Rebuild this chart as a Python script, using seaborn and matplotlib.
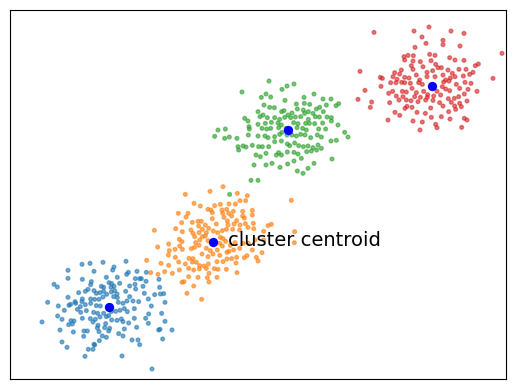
import pandas as pd
import matplotlib
matplotlib.use("Agg")
import matplotlib.pyplot as plt
import seaborn as sns

# -----------------------------
# Data (arbitrary units)
# -----------------------------
blue_points = [
    (247, 374), (271, 377), (310, 380), (379, 383), (205, 356), (283, 353), (343, 366), (339, 357),
    (386, 350), (381, 344), (412, 353), (440, 350), (205, 332), (248, 329), (320, 335), (353, 335),
    (407, 331), (420, 331), (425, 331), (478, 329), (163, 314), (173, 306), (275, 322), (273, 313),
    (305, 308), (312, 305), (328, 319), (336, 316), (334, 305), (343, 308), (360, 317), (390, 309),
    (406, 314), (430, 308), (439, 323), (408, 300), (265, 299), (283, 295), (290, 287), (301, 289),
    (312, 293), (321, 284), (335, 291), (345, 295), (352, 285), (378, 293), (237, 289), (257, 293),
    (205, 275), (248, 270), (247, 262), (226, 262), (273, 270), (285, 269), (298, 269), (310, 276),
    (342, 277), (353, 274), (390, 277), (382, 264), (400, 264), (417, 262), (434, 287), (465, 283),
    (482, 285), (480, 305), (492, 286), (446, 270), (496, 260), (144, 260), (176, 249), (208, 251),
    (213, 254), (228, 257), (242, 247), (257, 253), (273, 257), (290, 250), (302, 249), (356, 260),
    (370, 257), (374, 241), (404, 241), (455, 249), (194, 236), (233, 239), (243, 230), (260, 235),
    (282, 230), (294, 227), (312, 227), (320, 217), (335, 232), (348, 233), (361, 236), (383, 232),
    (447, 225), (486, 227), (174, 219), (187, 209), (248, 212), (272, 211), (287, 209), (301, 216),
    (327, 220), (352, 206), (365, 210), (370, 202), (387, 198), (404, 212), (438, 212), (496, 203),
    (127, 201), (214, 205), (223, 204), (207, 193), (218, 195), (280, 201), (295, 191), (318, 196),
    (336, 207), (315, 184), (330, 182), (293, 183), (411, 185), (446, 197), (181, 177), (221, 171),
    (253, 174), (263, 174), (298, 172), (327, 174), (357, 166), (374, 180), (370, 159), (477, 177),
    (517, 177), (481, 179), (252, 158), (308, 159), (320, 155), (299, 145), (285, 132), (187, 141),
    (397, 147), (415, 147), (420, 133), (489, 150), (202, 125), (266, 119), (280, 119), (283, 134),
    (256, 98), (367, 99), (457, 60),
]

orange_points = [
    (670, 607), (557, 584), (631, 593), (713, 587), (743, 580), (721, 565), (738, 565), (875, 566),
    (583, 557), (602, 549), (645, 550), (662, 554), (688, 555), (707, 555), (625, 539), (634, 537),
    (638, 529), (667, 537), (681, 539), (687, 527), (701, 533), (729, 533), (758, 536), (536, 527),
    (565, 527), (559, 516), (578, 500), (595, 503), (605, 503), (617, 492), (638, 511), (669, 527),
    (673, 515), (696, 519), (711, 505), (729, 519), (734, 513), (758, 522), (546, 499), (528, 481),
    (548, 472), (574, 477), (597, 489), (608, 479), (627, 482), (650, 495), (683, 504), (685, 492),
    (703, 495), (721, 492), (737, 496), (761, 497), (805, 490), (815, 494), (464, 476), (580, 467),
    (598, 469), (620, 469), (641, 474), (654, 469), (668, 475), (680, 479), (699, 479), (720, 477),
    (745, 485), (762, 481), (792, 473), (885, 472), (539, 449), (547, 442), (585, 457), (608, 457),
    (617, 459), (662, 455), (670, 451), (678, 443), (884, 439), (507, 435), (540, 429), (588, 439),
    (600, 447), (625, 445), (660, 437), (668, 429), (692, 431), (706, 439), (731, 437), (746, 437),
    (766, 447), (792, 447), (474, 426), (509, 415), (526, 419), (548, 419), (575, 421), (585, 425),
    (598, 431), (620, 422), (632, 415), (653, 417), (682, 410), (688, 413), (702, 417), (720, 422),
    (758, 417), (787, 409), (506, 402), (527, 395), (568, 392), (580, 391), (607, 405), (625, 397),
    (640, 405), (660, 401), (682, 390), (696, 391), (711, 395), (734, 394), (742, 400), (770, 395),
    (775, 384), (441, 386), (484, 377), (537, 381), (557, 375), (578, 381), (590, 380), (600, 370),
    (613, 369), (626, 375), (652, 382), (670, 382), (709, 378), (518, 347), (539, 357), (567, 362),
    (582, 357), (599, 360), (620, 362), (628, 347), (644, 361), (655, 359), (680, 359), (712, 349),
    (453, 349), (495, 352), (547, 320), (553, 322), (567, 337), (595, 335), (623, 334), (628, 321),
    (652, 335), (582, 309), (562, 287), (606, 269), (475, 344), (507, 371),
]

green_points = [
    (808, 924), (862, 909), (883, 915), (847, 899), (727, 891), (799, 885), (785, 875), (813, 876),
    (856, 866), (913, 875), (943, 885), (970, 870), (994, 870), (793, 852), (810, 845), (824, 844),
    (890, 855), (914, 857), (930, 854), (950, 840), (960, 845), (980, 852), (1009, 850), (1017, 856),
    (775, 832), (846, 832), (853, 835), (865, 822), (877, 828), (893, 840), (911, 837), (915, 827),
    (926, 832), (940, 827), (971, 832), (735, 812), (745, 804), (781, 817), (790, 822), (803, 814),
    (825, 814), (840, 809), (855, 815), (873, 814), (887, 816), (903, 817), (926, 809), (947, 817),
    (959, 816), (982, 816), (995, 814), (748, 787), (775, 794), (797, 797), (815, 800), (835, 798),
    (845, 792), (882, 799), (895, 796), (918, 797), (929, 797), (945, 796), (969, 798), (995, 804),
    (1015, 792), (655, 777), (677, 780), (749, 780), (787, 782), (801, 780), (813, 782), (837, 784),
    (859, 782), (892, 784), (909, 782), (920, 777), (957, 780), (978, 780), (645, 758), (675, 752),
    (689, 756), (712, 752), (746, 762), (775, 759), (796, 759), (805, 754), (825, 757), (840, 764),
    (847, 770), (862, 762), (877, 762), (890, 759), (903, 764), (916, 762), (933, 754), (953, 762),
    (965, 756), (994, 744), (1010, 746), (1035, 770), (1045, 756), (715, 727), (717, 717), (730, 729),
    (739, 726), (758, 731), (777, 727), (788, 727), (807, 727), (825, 742), (845, 744), (863, 735),
    (870, 730), (885, 738), (897, 730), (911, 727), (925, 729), (940, 724), (955, 732), (965, 722),
    (799, 707), (769, 702), (830, 702), (837, 709), (845, 702), (863, 711), (883, 710), (895, 705),
    (921, 712), (935, 714), (951, 717), (782, 697), (817, 677), (841, 665), (864, 675), (883, 684),
    (905, 692), (943, 677), (997, 690), (763, 672), (799, 672), (893, 654), (910, 647), (925, 662),
    (754, 626), (775, 626), (690, 584),
]

red_points = [
    (1123, 1070), (1243, 1074), (1288, 1086), (1354, 1074), (1393, 1067), (1267, 1056), (1279, 1037),
    (1330, 1046), (1330, 1033), (1381, 1029), (1246, 1025), (1507, 1007), (1213, 997), (1225, 1001),
    (1241, 1000), (1290, 1004), (1306, 1001), (1240, 984), (1215, 987), (1262, 982), (1294, 985),
    (1308, 974), (1315, 964), (1350, 994), (1366, 987), (1393, 986), (1427, 970), (1436, 975),
    (1081, 953), (1185, 949), (1205, 957), (1200, 945), (1235, 970), (1240, 959), (1270, 967),
    (1282, 950), (1299, 955), (1325, 964), (1345, 957), (1358, 947), (1378, 959), (1399, 959),
    (1420, 950), (1142, 935), (1148, 932), (1180, 937), (1192, 929), (1215, 935), (1228, 933),
    (1250, 942), (1260, 927), (1282, 937), (1306, 937), (1330, 942), (1338, 927), (1352, 933),
    (1366, 937), (1391, 939), (1410, 944), (1480, 932), (1144, 908), (1173, 919), (1189, 919),
    (1206, 920), (1215, 919), (1232, 917), (1257, 919), (1268, 914), (1332, 921), (1348, 924),
    (1370, 914), (1396, 920), (1414, 917), (1096, 896), (1167, 887), (1179, 893), (1208, 893),
    (1220, 891), (1237, 902), (1250, 889), (1272, 893), (1284, 883), (1312, 893), (1328, 907),
    (1338, 900), (1350, 895), (1380, 902), (1405, 899), (1432, 893), (1075, 869), (1190, 879),
    (1210, 877), (1220, 867), (1234, 865), (1245, 877), (1262, 875), (1283, 875), (1302, 879),
    (1323, 882), (1346, 871), (1364, 872), (1377, 877), (1394, 885), (1116, 861), (1170, 859),
    (1198, 867), (1222, 848), (1237, 845), (1255, 862), (1278, 867), (1300, 866), (1320, 859),
    (1330, 849), (1355, 860), (1365, 849), (1380, 857), (1402, 864), (1112, 845), (1186, 830),
    (1200, 821), (1216, 842), (1252, 830), (1277, 827), (1293, 843), (1347, 832), (1368, 839),
    (1385, 847), (1165, 807), (1240, 804), (1268, 801), (1295, 815), (1325, 817), (1351, 810),
    (1394, 812), (1402, 807), (1261, 777), (1308, 794), (1312, 784), (1386, 785),
]

centroid_x = [328, 640, 865, 1297]
centroid_y = [245, 441, 777, 908]

cluster_names = ["blue", "orange", "green", "red"]
cluster_colors = ["#1f77b4", "#ff7f0e", "#2ca02c", "#d62728"]

# -----------------------------
# Build DataFrame
# -----------------------------
frames = []
for name, pts in zip(cluster_names,
                     [blue_points, orange_points, green_points, red_points]):
    part = pd.DataFrame(pts, columns=["x", "y"])
    part["cluster"] = name
    frames.append(part)
df = pd.concat(frames, ignore_index=True)

centroids = pd.DataFrame({"x": centroid_x, "y": centroid_y})

# -----------------------------
# Plot
# -----------------------------
fig = plt.figure(figsize=(5.15, 3.89), dpi=100)
ax = fig.add_axes([10 / 515, 9.7 / 389, 496 / 515, 369.6 / 389])

sns.scatterplot(
    data=df,
    x="x",
    y="y",
    hue="cluster",
    palette=dict(zip(cluster_names, cluster_colors)),
    s=7,
    alpha=0.6,
    edgecolor="face",
    linewidth=1,
    legend=False,
    ax=ax
)

sns.scatterplot(
    data=centroids,
    x="x",
    y="y",
    color="blue",
    s=45,
    linewidth=0,
    ax=ax
)

ax.text(centroid_x[1] + 45, centroid_y[1] + 3, "cluster centroid",
        fontsize=14, va="center", ha="left")

ax.set_xlim(31, 1519)
ax.set_ylim(29, 1138)
ax.set_xticks([])
ax.set_yticks([])
ax.set_xlabel("")
ax.set_ylabel("")

fig.savefig("out.png", dpi=100)
